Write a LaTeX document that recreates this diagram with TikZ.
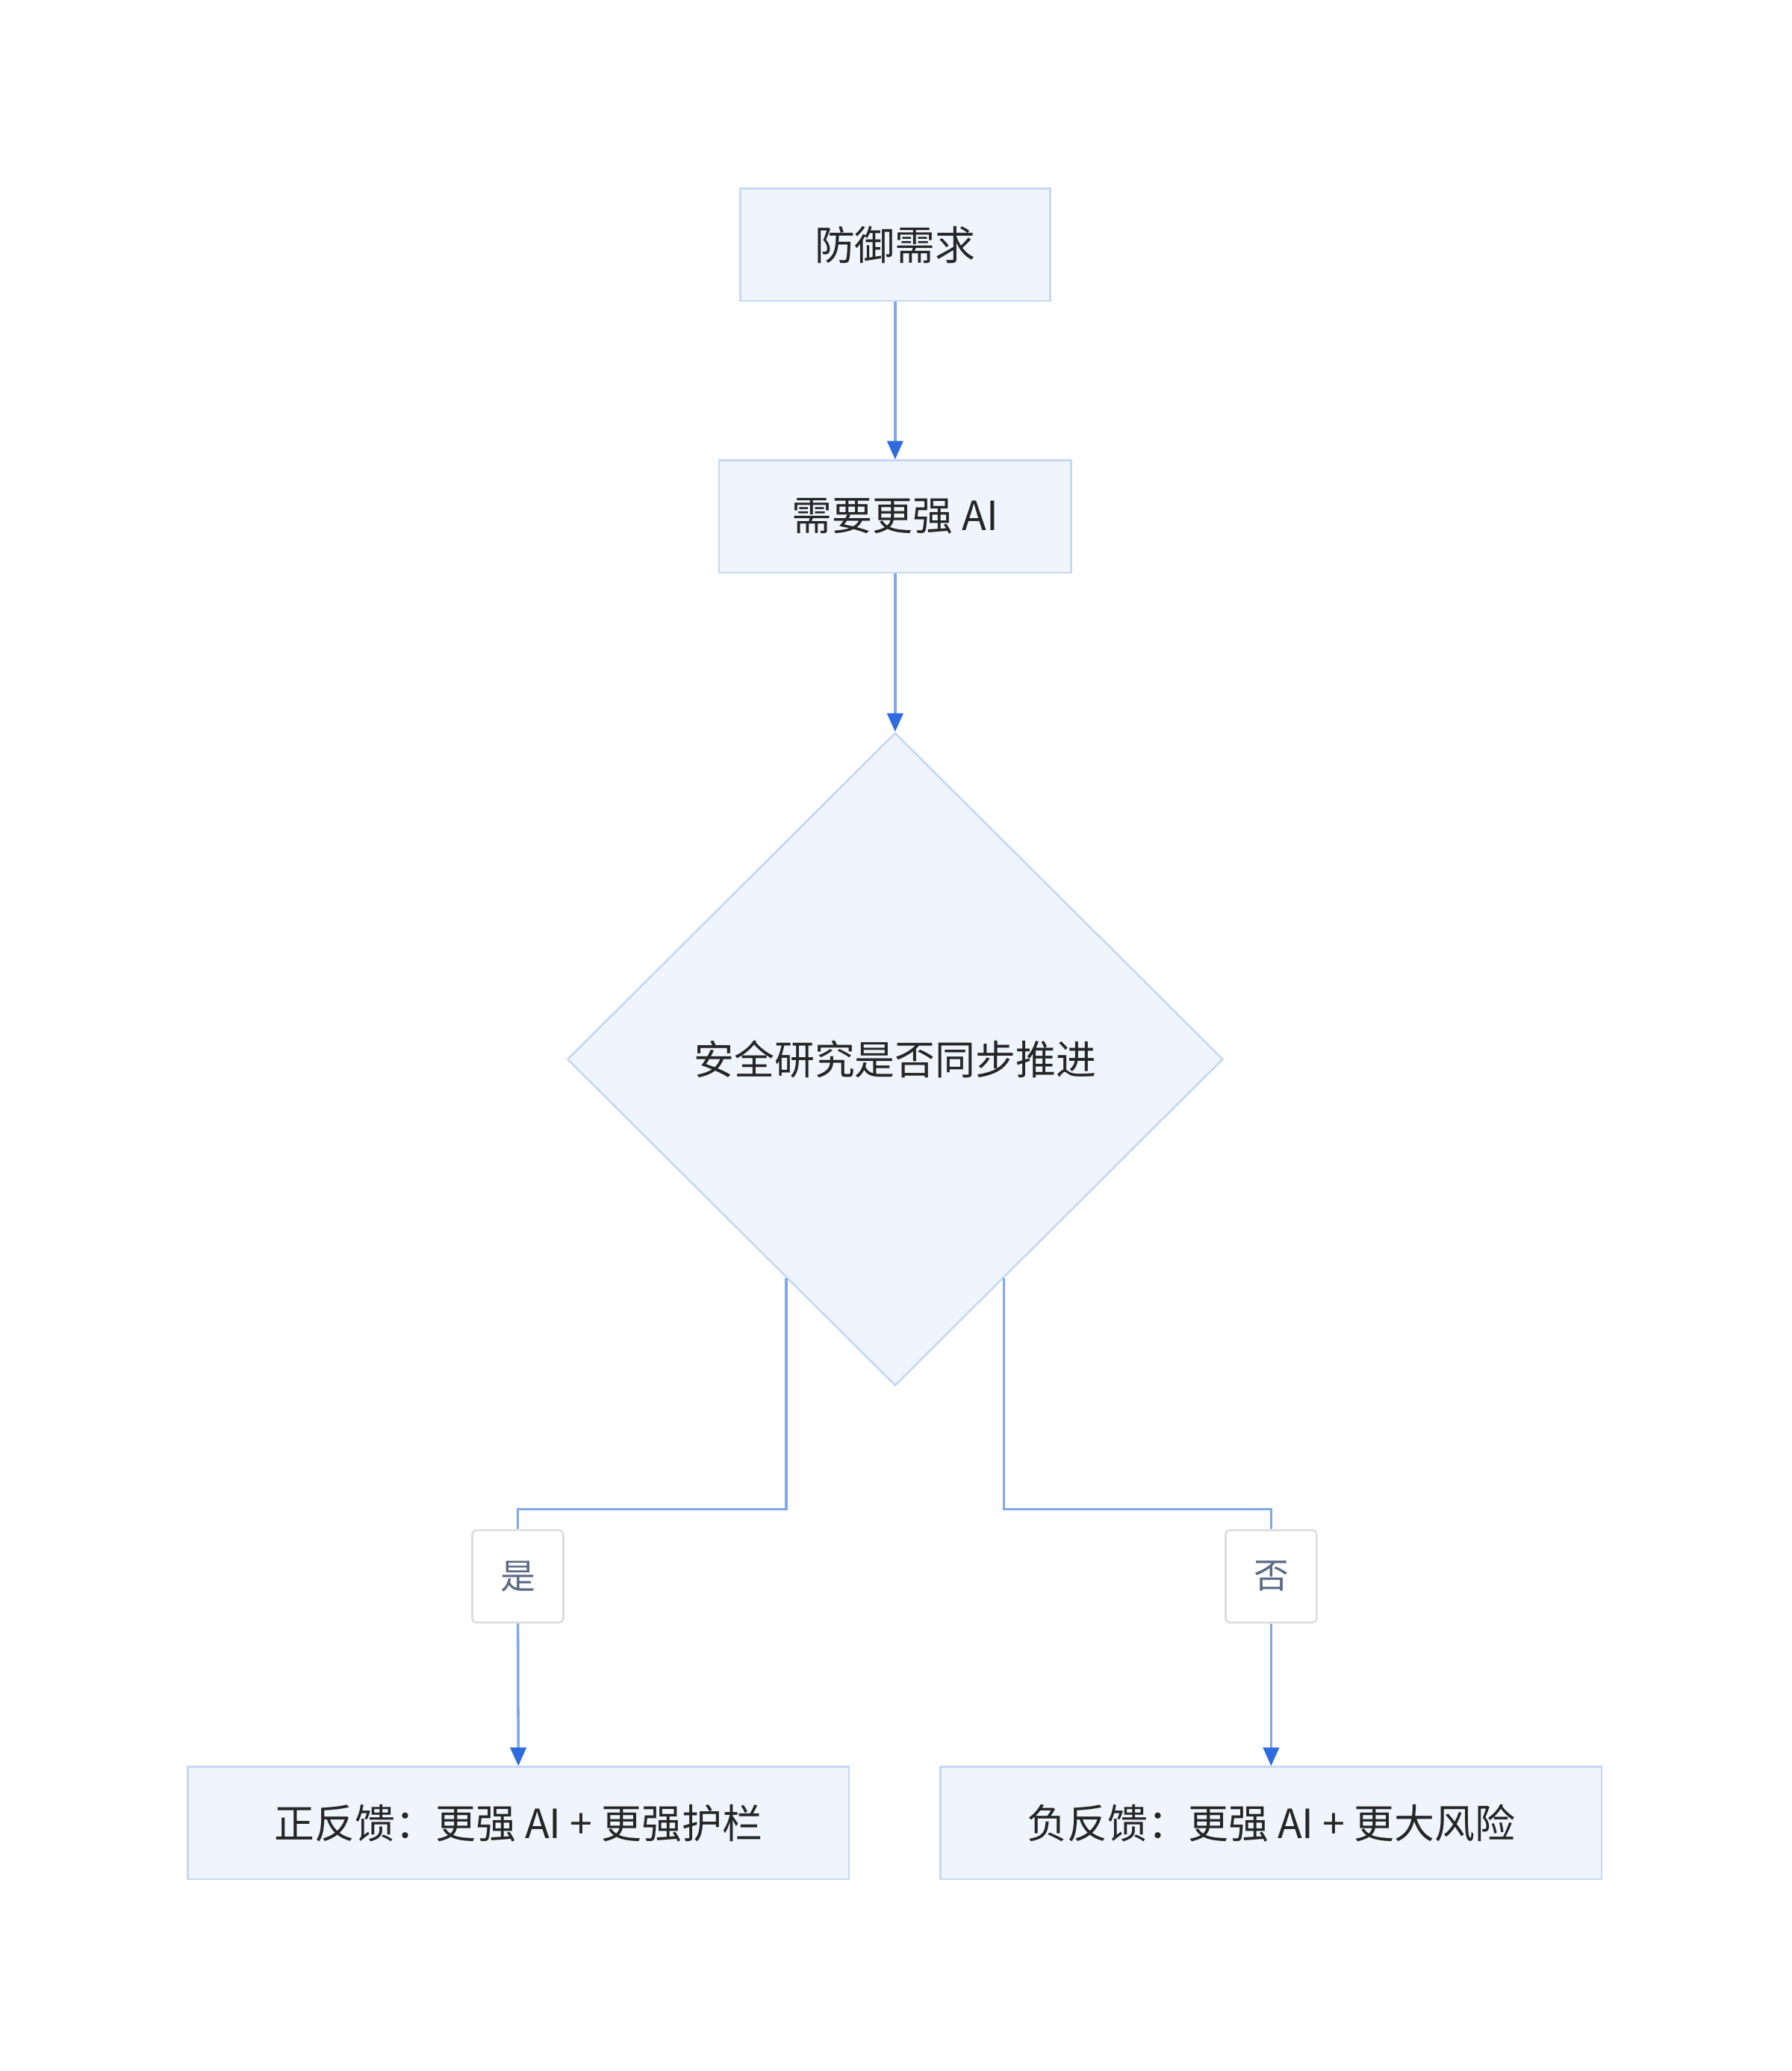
\documentclass[tikz,border=0pt]{standalone}
\usepackage{fontspec}
\setmainfont{Noto Sans CJK SC}
\usetikzlibrary{shapes.geometric,arrows.meta,positioning}
\definecolor{boxfill}{HTML}{F0F5FD}
\definecolor{boxline}{HTML}{C6D8F3}
\definecolor{flowline}{HTML}{7FA8EE}
\definecolor{tipblue}{HTML}{2F6BDF}
\definecolor{tagline}{HTML}{DDDDDD}
\definecolor{tagtext}{HTML}{5B6B84}
\begin{document}
\begin{tikzpicture}[x=1pt,y=-1pt,
    stage/.style ={draw=boxline, fill=boxfill, line width=1.5pt, minimum height=85pt,
      font=\fontsize{30.5}{33}\selectfont, text=black!85},
    choice/.style ={diamond, draw=boxline, fill=boxfill, line width=1.5pt, inner sep=0pt,
      minimum width=497pt, minimum height=495pt, font=\fontsize{30.5}{33}\selectfont, text=black!85},
    tag/.style ={draw=tagline, fill=white, line width=1.5pt, rounded corners=3pt,
      minimum width=69pt, minimum height=70pt, font=\fontsize{26.5}{29}\selectfont, text=tagtext},
    flow/.style ={draw=flowline, line width=2pt},
    arrow/.style ={flow, -{Triangle[length=14pt,width=12pt,fill=tipblue,color=tipblue]}}]
   \useasboundingbox (0,0) rectangle (1358,1570);
   \node[stage, minimum width=235pt] (need) at (678.5,185.5) {防御需求};
   \node[stage, minimum width=267pt] (stronger) at (678.5,391.5) {需要更强 AI};
   \node[choice] (sync) at (678.5,803) {安全研究是否同步推进};
   \node[tag] (yes) at (392.5,1195) {是};
   \node[tag] (no) at (963.5,1195) {否};
   \node[stage, minimum width=501pt] (good) at (393,1382) {正反馈：更强 AI + 更强护栏};
   \node[stage, minimum width=501pt] (bad) at (963.5,1382) {负反馈：更强 AI + 更大风险};
   \coordinate (yesStart) at (596,969);
   \coordinate (noStart) at (761,969);

   \draw[arrow] (need) to (stronger);
   \draw[arrow] (stronger) to (sync);
   \draw[flow] (yesStart) |- (392.5,1144) -- (yes);
   \draw[flow] (noStart) |- (963.5,1144) -- (no);
   \draw[arrow] (yes) to (good);
   \draw[arrow] (no) to (bad);
 \end{tikzpicture}
\end{document}
